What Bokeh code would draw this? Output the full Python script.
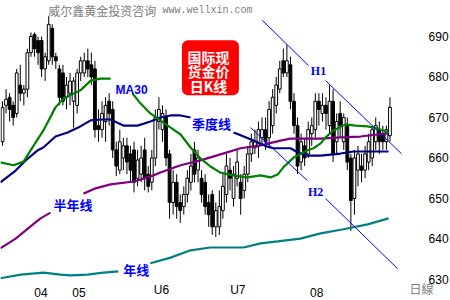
from bokeh.plotting import figure
from bokeh.models import Range1d, ColumnDataSource
from bokeh.core.properties import value
from bokeh.embed import file_html
from bokeh.resources import INLINE

nan = float("nan")

# daily candles (price)
opens = [664, 673, 675, 673, 671, 678, 676, 677, 686, 690.5,
         689, 689, 682, 684, 692, 685, 682, 681, 675, 676,
         674, 673, 681, 681, 684, 683, 682, 668, 667, 669,
         674, 672, 662, 657, 660, 663, 661, 662, 655, 656,
         662, 656, 654, 660, 669, 667, 670, 661, 649, 654,
         649, 648, 651, 654, 662, 657, 655, 654, 649, 651,
         643, 643, 647, 651, 657, 650, 655, 654, 652, 656,
         661, 662.5, 663, 665, 667, 665, 668, 673, 677, 684,
         681, 683, 674, 668, 659, 663, 661, 666, 667, 674,
         671, 673, 668, 674, 664, 671, 664, 668, 660, 650,
         657, 658, 657, 659, 660, 664, 667, 666, 664, 665.5]
highs = [674, 677, 676, 674, 682, 683, 678, 687, 691, 691,
         690, 690, 686, 695, 693, 686, 683, 683, 680, 681,
         680, 682, 685, 686, 687, 686, 684, 672, 674, 675,
         676, 674, 664, 667, 665, 665, 663, 664, 662, 663,
         665, 658, 662, 672, 675, 673, 672, 662, 657, 656,
         651, 653, 657, 661, 664, 662, 657, 656, 651, 652,
         649, 652, 656, 661, 660, 658, 662, 656, 658, 663,
         666, 667, 669, 670, 670, 674, 677, 680, 684, 687,
         688, 685, 676, 670, 666, 665, 669, 670, 676, 676,
         676, 675, 678, 677, 671, 674, 671, 670, 661, 662,
         663, 661, 663, 666, 668, 670, 669, 668, 668, 675]
lows = [663, 671, 669, 668, 670, 674, 673, 675, 685, 685,
        683, 680, 679, 683, 683, 682, 673, 673, 672, 673,
        667.5, 671, 679, 680, 680, 678, 665, 664, 665, 664,
        668, 660, 655.5, 656, 657, 656, 654, 651.5, 653, 654,
        652, 651.5, 652, 658, 667, 664, 658, 645, 646, 645,
        644, 646, 649, 652, 654, 654, 649, 646, 643, 641,
        640.5, 641, 645, 649, 652, 648, 653, 646, 650, 654,
        659, 661, 660, 663, 662, 663, 666, 671, 676, 680,
        680, 672, 666, 656, 657, 658, 660, 663, 665, 668,
        669, 667, 666, 659, 661, 665, 662, 657, 642, 646,
        653, 654, 655, 657, 658, 662, 661, 662, 662, 664]
closes = [672.5, 674.5, 672, 670, 681, 676, 677, 686, 690, 687,
          686, 682, 685, 693, 685, 684, 675, 674, 678, 679,
          679, 681, 684, 684, 682, 680, 667, 667, 671, 673,
          671, 662, 658, 664, 663, 659, 657, 654, 659.5, 660,
          655, 653, 660, 670, 672, 671, 660, 649, 654, 648,
          647, 651, 655, 658, 656, 660, 651, 648, 646, 643,
          647, 648, 653, 658, 655, 656, 659, 650, 656, 661,
          664, 664, 667, 667, 664, 672, 675, 678, 682, 681,
          684, 674, 668, 658, 664, 660, 667, 668, 674, 672,
          673, 671, 674, 661, 669, 668, 670, 659, 649.5, 660,
          661, 657, 661, 664, 667, 668, 664, 664, 667, 672.5]

# moving averages (x = day index, y = price)
ma30_x = [-0.6, 3.1, 5.9, 7.9, 11.5, 14.9, 17.2, 21.9, 24.8, 27.6, 30.4, nan,
          36.6, 38.8, 41.6, 44.4, 47.3, 50.1, 52.9, 55.7, 58.5, 61.3, 65.0, 68.9,
          72.6, 75.4, 77.4, 79.0, 81.9, 85.8, 87.5, 89.5, 90.9, 93.1, 96.5, 99.3,
          102.7, 105.5, 108.6]
ma30_y = [658.9, 658.2, 659.1, 661.9, 666.8, 672.5, 674.7, 676.7, 679.1, 679.6, 679.6, nan,
          675.9, 673.5, 671.0, 669.3, 667.5, 665.8, 662.6, 659.9, 657.9, 656.4, 655.7, 655.2,
          655.7, 655.2, 655.9, 657.7, 660.1, 661.9, 662.4, 663.6, 665.1, 666.8, 668.3, 668.0,
          667.8, 667.3, 666.3]
maq_x = [-0.6, 3.7, 6.5, 9.9, 11.5, 14.9, 18.3, 21.9, 24.8, 27.6, 30.4, 34.0, 38.0,
         41.6, 44.4, 47.3, 50.1, 52.9, nan, 65.0, 67.0, 70.6, 74.5, 76.2, 81.0, 83.0,
         85.8, 89.5, 95.1, 98.7, 104.4, 108.6]
maq_y = [654.0, 656.9, 659.4, 661.9, 662.6, 665.3, 666.3, 667.8, 669.3, 669.5, 669.5, 668.0, 668.0,
         669.0, 670.0, 670.5, 670.5, 670.0, nan, 666.3, 665.6, 664.3, 662.8, 662.4, 662.4, 661.4,
         660.6, 660.6, 661.1, 661.6, 661.6, 661.6]
mah_x = [-0.6, 3.7, 7.9, 10.7, 13.5, nan, 22.8, 26.2, 30.4, 36.9, 41.6, 44.4, 50.1,
         55.7, 61.3, 67.0, 72.6, 78.2, 81.0, 89.5, 95.1, 100.7, 105.5, 108.6]
mah_y = [637.7, 640.1, 643.1, 645.1, 646.5, nan, 651.2, 652.5, 653.5, 654.2, 655.4, 656.4, 658.2,
         659.4, 660.9, 662.4, 663.1, 664.3, 664.8, 664.8, 665.1, 665.3, 665.8, 666.1]
may_x = [-0.6, 5.1, 11.5, 16.3, 19.1, 23.9, 28.4, 32.6, nan, 41.6, 47.3, 52.9, 58.5,
         67.8, 72.6, 77.4, 83.8, 89.5, 95.9, 102.7, 108.6]
may_y = [630.3, 631.2, 631.7, 631.2, 631.0, 631.2, 631.7, 632.0, nan, 634.0, 635.4, 637.2, 637.9,
         637.9, 638.9, 639.4, 640.1, 641.4, 642.4, 643.6, 645.1]

# trend lines H1 / H2
h1_x = [73.1, 86.1, nan, 90.9, 112.3]
h1_y = [694.0, 682.8, nan, 679.1, 661.0]
h2_x = [69.8, 85.8, nan, 90.9, 111.1]
h2_y = [667.5, 654.4, nan, 650.0, 632.7]

# axis ticks
price_ticks = [630, 640, 650, 660, 670, 680, 690]
price_labels = ["630", "640", "650", "660", "670", "680", "690"]
month_pos = [10.8, 21.5, 44.7, 66.2, 88.4]
month_labels = ["04", "05", "U6", "U7", "08"]
period_label = "日線"

p = figure(width=450, height=300, output_backend="svg", toolbar_location=None,
           x_range=Range1d(-0.5626, 126.03), y_range=Range1d(624.81, 698.89),
           x_axis_location=None, y_axis_location=None, min_border=0)
p.background_fill_color = "white"
p.border_fill_color = "white"
p.outline_line_color = None
p.grid.visible = False

idx = list(range(len(opens)))
src = ColumnDataSource(dict(
    x=idx, o=opens, h=highs, l=lows, c=closes,
    top=[max(a, b) for a, b in zip(opens, closes)],
    bot=[min(a, b) for a, b in zip(opens, closes)],
    fill=["white" if c >= o else "black" for o, c in zip(opens, closes)],
))
p.segment(x0="x", y0="h", x1="x", y1="l", source=src, line_color="black", line_width=1)
p.vbar(x="x", width=0.78, top="top", bottom="bot", source=src,
       fill_color="fill", line_color="black", line_width=1)

p.line(may_x, may_y, line_color="#008080", line_width=2.2)
p.line(mah_x, mah_y, line_color="#800080", line_width=2.2)
p.line(maq_x, maq_y, line_color="#000080", line_width=2.2)
p.line(ma30_x, ma30_y, line_color="#008000", line_width=2.2)
p.line(h1_x, h1_y, line_color="#0000FF", line_width=1)
p.line(h2_x, h2_y, line_color="#0000FF", line_width=1)

cjk = value("Noto Sans CJK SC")
blue = "#0000FF"
p.text(x=[31.8], y=[676.9], text=["MA30"], text_color=blue, text_font=value("Liberation Sans"),
       text_font_style="bold", text_font_size="12px", text_baseline="middle", text_align="left")
p.text(x=[58.8], y=[668.5], text=["季度线"], text_color=blue, text_font=cjk,
       text_font_style="bold", text_font_size="13px", text_baseline="middle", text_align="center")
p.text(x=[19.8], y=[648.5], text=["半年线"], text_color=blue, text_font=cjk,
       text_font_style="bold", text_font_size="13px", text_baseline="middle", text_align="center")
p.text(x=[37.6], y=[632.5], text=["年线"], text_color=blue, text_font=cjk,
       text_font_style="bold", text_font_size="13px", text_baseline="middle", text_align="center")
p.text(x=[88.9], y=[681.6], text=["H1"], text_color=blue, text_font=value("Liberation Serif"),
       text_font_style="bold", text_font_size="12px", text_baseline="middle", text_align="center")
p.text(x=[88.1], y=[651.7], text=["H2"], text_color=blue, text_font=value("Liberation Serif"),
       text_font_style="bold", text_font_size="12px", text_baseline="middle", text_align="center")

# red title box
p.rect(x=[58.5], y=[682.3], width=57, height=55, width_units="screen", height_units="screen",
       fill_color="#FF0000", line_color=None, border_radius=6)
p.text(x=[57.95, 57.95, 57.95], y=[685.0, 681.4, 677.7], text=["国际现", "货金价", "日K线"],
       text_color="white", text_font=cjk, text_font_style="bold", text_font_size="14px",
       text_baseline="middle", text_align="center")

# watermark
p.text(x=[12.9], y=[696.4], text=["威尔鑫黄金投资咨询"], text_color="#808080", text_font=cjk,
       text_font_size="12px", text_baseline="middle", text_align="left")
p.text(x=[45.0], y=[696.4], text=["www.wellxin.com"], text_color="#808080",
       text_font=value("Liberation Mono"), text_font_size="10px", text_baseline="middle", text_align="left")

# tick labels (price scale on the right, months below)
p.text(x=[119.85] * len(price_ticks), y=price_ticks, text=price_labels, text_color="black",
       text_font=value("Liberation Sans"), text_font_size="12px",
       text_baseline="middle", text_align="left")
p.text(x=month_pos, y=[625.6] * len(month_pos), text=month_labels, text_color="black",
       text_font=value("Liberation Sans"), text_font_size="12px",
       text_baseline="bottom", text_align="center")
p.text(x=[117.9], y=[625.6], text=[period_label], text_color="#808080",
       text_font=value("Noto Sans CJK TC"), text_font_size="12px",
       text_baseline="bottom", text_align="center")

open("out.html", "w").write(file_html(p, INLINE))
